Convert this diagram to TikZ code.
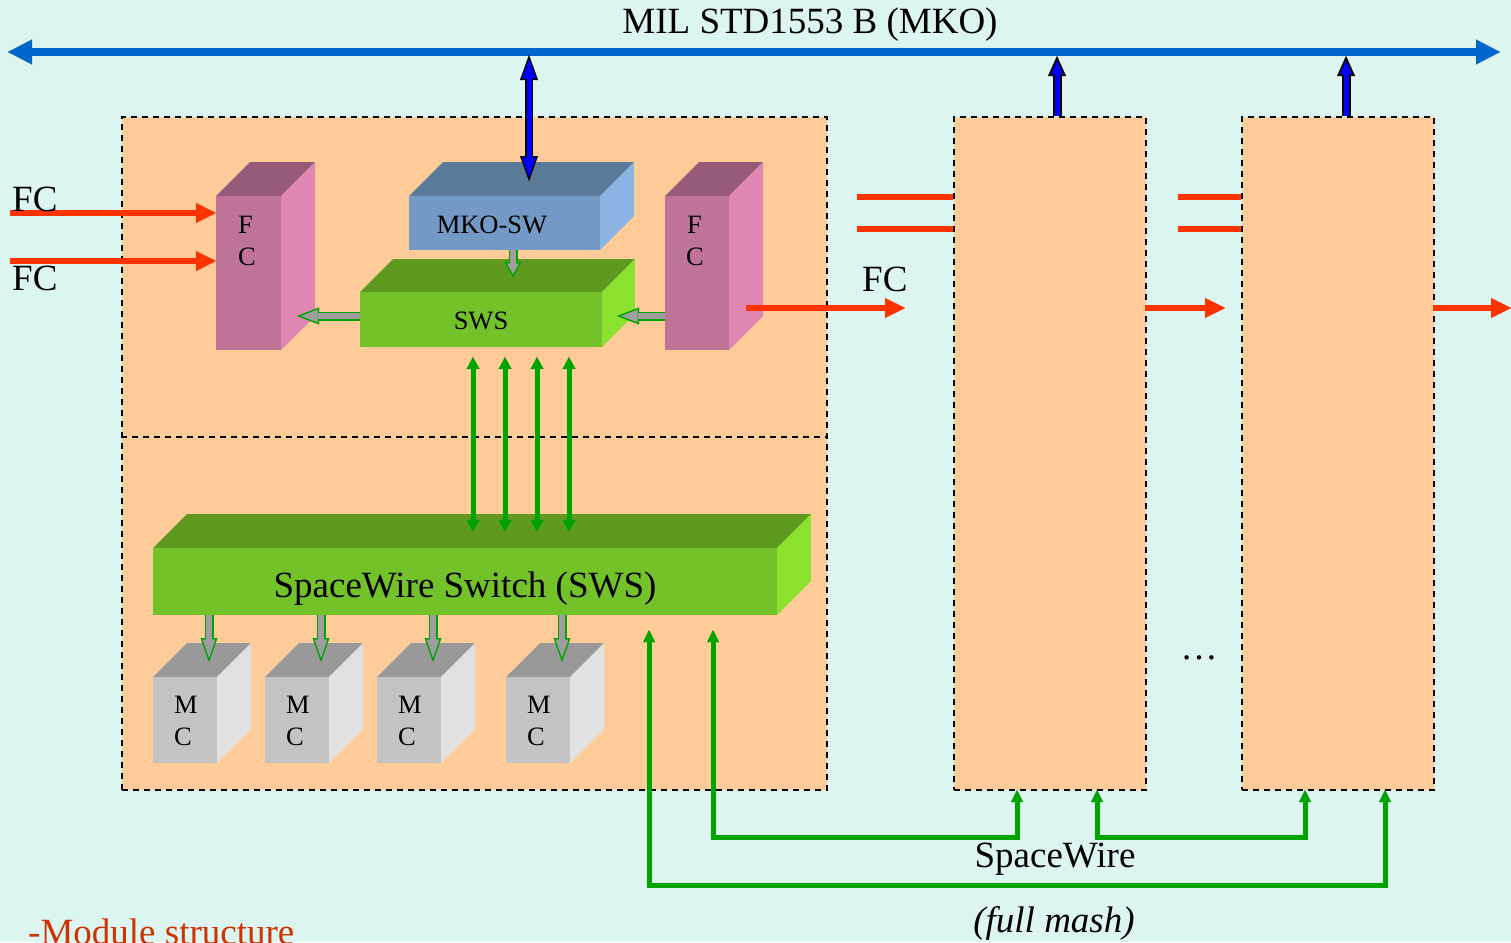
\documentclass[tikz,border=0pt]{standalone}
\usepackage{fontspec}
\setmainfont{Liberation Serif}
\usetikzlibrary{arrows.meta}
\definecolor{bgc}{HTML}{DDF5F1}
\definecolor{peach}{HTML}{FFCC99}
\definecolor{busblue}{HTML}{0066CC}
\definecolor{arrblue}{HTML}{0000FF}
\definecolor{fcred}{HTML}{FF3300}
\definecolor{swgreen}{HTML}{00A300}
\definecolor{arrgray}{HTML}{9E9E9E}
\definecolor{mkofront}{HTML}{7399C6}
\definecolor{mkotop}{HTML}{5B7A99}
\definecolor{mkoright}{HTML}{8CB4E2}
\definecolor{swsfront}{HTML}{74C22A}
\definecolor{swstop}{HTML}{5E9A1F}
\definecolor{swsright}{HTML}{8AE22E}
\definecolor{fcfront}{HTML}{C07399}
\definecolor{fctop}{HTML}{955B78}
\definecolor{fcright}{HTML}{DF86B2}
\definecolor{mcfront}{HTML}{C3C3C3}
\definecolor{mctop}{HTML}{999999}
\definecolor{mcright}{HTML}{E1E1E1}
\definecolor{modred}{HTML}{CC3300}
\newcommand{\fbig}{\fontsize{37}{44}\selectfont}
\newcommand{\fsmall}{\fontsize{26.5}{32}\selectfont}
\newcommand{\cuboid}[9]{%
  \fill[#8] (#2,#3) -- ++(#6,-#6) -- ++(#4,0) -- ++(-#6,#6) -- cycle;
  \fill[#9] (#2+#4,#3) -- ++(#6,-#6) -- ++(0,#5) -- ++(-#6,#6) -- cycle;
  \node[fill=#7, inner sep=0pt, minimum width=#4pt, minimum height=#5pt, anchor=north west] (#1) at (#2,#3) {};
}
\tikzset{
  modbox/.style={draw=black, fill=peach, line width=1.8pt, dash pattern=on 6pt off 5pt, inner sep=0pt, anchor=north west},
  dashline/.style={draw=black, line width=1.8pt, dash pattern=on 6pt off 5pt},
  txt/.style={inner sep=0pt, font=\fbig},
  stxt/.style={inner sep=0pt, font=\fsmall},
  redarrow/.style={fcred, line width=6pt, -{Triangle[length=20pt,width=20pt,line width=0.01pt]}},
  redline/.style={fcred, line width=6pt},
  swdouble/.style={swgreen, line width=5pt, {Triangle[length=12pt,width=13pt,line width=0.01pt]}-{Triangle[length=12pt,width=13pt,line width=0.01pt]}},
  swpath/.style={swgreen, line width=5pt, line join=miter, {Triangle[length=12pt,width=12pt,line width=0.01pt]}-{Triangle[length=12pt,width=12pt,line width=0.01pt]}},
  busline/.style={busblue, line width=8pt, {Triangle[length=24pt,width=25pt,line width=0.01pt]}-{Triangle[length=24pt,width=25pt,line width=0.01pt]}},
}
\newcommand{\grayarrow}[6]{% from, to, outer length, inner shorten, inner length, inner width
  \draw[swgreen, line width=9pt, -{Triangle[length=#3pt,width=17pt,line width=0.01pt]}] #1 -- #2;
  \draw[arrgray, line width=6pt, shorten >=#4pt, -{Triangle[length=#5pt,width=#6pt,line width=0.01pt]}] #1 -- #2;
}
\begin{document}
\begin{tikzpicture}[x=1pt,y=-1pt]
\useasboundingbox (0,0) rectangle (1511,942);
\fill[bgc] (0,0) rectangle (1511,942);

% module boxes
\node[modbox, minimum width=705pt, minimum height=673pt] (mod1) at (121,116) {};
\node[modbox, minimum width=192pt, minimum height=673pt] (mod2) at (953,116) {};
\node[modbox, minimum width=192pt, minimum height=673pt] (mod3) at (1241,116) {};
\coordinate (divL) at (121,437);
\coordinate (divR) at (826,437);
\draw[dashline] (divL) -- (divR);

% cuboids
\cuboid{mko}{409}{196}{191}{54}{34}{mkofront}{mkotop}{mkoright}
\cuboid{sws}{360}{292}{242}{55}{33}{swsfront}{swstop}{swsright}
\cuboid{fcl}{216}{196}{65}{154}{34}{fcfront}{fctop}{fcright}
\cuboid{fcr}{665}{196}{64}{154}{34}{fcfront}{fctop}{fcright}
\cuboid{swsb}{153}{548}{624}{67}{34}{swsfront}{swstop}{swsright}
\cuboid{mc1}{153}{677}{64}{86}{34}{mcfront}{mctop}{mcright}
\cuboid{mc2}{265}{677}{64}{86}{34}{mcfront}{mctop}{mcright}
\cuboid{mc3}{377}{677}{64}{86}{34}{mcfront}{mctop}{mcright}
\cuboid{mc4}{506}{677}{64}{86}{34}{mcfront}{mctop}{mcright}

% texts in boxes
\node[stxt, anchor=base] (tmko) at (492,233) {MKO-SW};
\node[stxt, anchor=base] (tsws) at (481,329) {SWS};
\node[stxt, anchor=base west] (tfl1) at (238,233) {F};
\node[stxt, anchor=base west] (tfl2) at (238,265) {C};
\node[stxt, anchor=base west] (tfr1) at (687,233) {F};
\node[stxt, anchor=base west] (tfr2) at (686,265) {C};
\node[txt, anchor=base] (tswsb) at (465,597) {SpaceWire Switch (SWS)};
\foreach \i/\x in {1/153,2/265,3/377,4/506}{
  \node[stxt, anchor=base west] (mcm\i) at (\x+21,713) {M};
  \node[stxt, anchor=base west] (mcc\i) at (\x+21,745) {C};
}

% bus
\coordinate (busL) at (8,52);
\coordinate (busR) at (1500,52);
\draw[busline] (busL) -- (busR);
\node[txt, anchor=base] (title) at (810,34) {MIL STD1553 B (MKO)};

% blue arrows
\coordinate (b1t) at (529,55);
\coordinate (b1b) at (529,181);
\draw[black, line width=8pt, {Triangle[length=25pt,width=18pt,line width=0.01pt]}-{Triangle[length=25pt,width=18pt,line width=0.01pt]}] (b1t) -- (b1b);
\draw[arrblue, line width=5pt, shorten >=4.4pt, shorten <=4.4pt, {Triangle[length=19.1pt,width=13.8pt,line width=0.01pt]}-{Triangle[length=19.1pt,width=13.8pt,line width=0.01pt]}] (b1t) -- (b1b);
\foreach \x/\n in {1057/2,1346/3}{
  \coordinate (bs\n) at (\x,116);
  \coordinate (bt\n) at (\x,56);
  \draw[black, line width=9pt, -{Triangle[length=20pt,width=18pt,line width=0.01pt]}] (bs\n) -- (bt\n);
  \draw[arrblue, line width=5pt, shorten >=4.9pt, -{Triangle[length=13.1pt,width=11.8pt,line width=0.01pt]}] (bs\n) -- (bt\n);
}

% gray hollow arrows
\coordinate (g1s) at (513,250); \coordinate (g1e) at (513,277);
\grayarrow{(g1s)}{(g1e)}{15}{3.05}{10.45}{11.8}
\coordinate (g2s) at (360,316); \coordinate (g2e) at (297,316);
\grayarrow{(g2s)}{(g2e)}{22}{4.2}{16.3}{12.6}
\coordinate (g3s) at (665,316); \coordinate (g3e) at (617,316);
\grayarrow{(g3s)}{(g3e)}{22}{4.2}{16.3}{12.6}
\foreach \x/\n in {209/1,321/2,433/3,562/4}{
  \coordinate (ms\n) at (\x,615); \coordinate (me\n) at (\x,662);
  \grayarrow{(ms\n)}{(me\n)}{24}{4.5}{18}{12.8}
}

% green vertical double arrows
\foreach \x/\n in {473/1,505/2,537/3,569/4}{
  \coordinate (vt\n) at (\x,357); \coordinate (vb\n) at (\x,532);
  \draw[swdouble] (vt\n) -- (vb\n);
}

% SpaceWire mesh
\coordinate (pa1) at (713,630); \coordinate (pa2) at (713,837); \coordinate (pa3) at (1017,837); \coordinate (pa4) at (1017,790);
\draw[swpath] (pa1) -- (pa2) -- (pa3) -- (pa4);
\coordinate (pb1) at (1097,790); \coordinate (pb2) at (1097,837); \coordinate (pb3) at (1305,837); \coordinate (pb4) at (1305,790);
\draw[swpath] (pb1) -- (pb2) -- (pb3) -- (pb4);
\coordinate (pc1) at (649,630); \coordinate (pc2) at (649,885); \coordinate (pc3) at (1385,885); \coordinate (pc4) at (1385,790);
\draw[swpath] (pc1) -- (pc2) -- (pc3) -- (pc4);

% red FC links
\coordinate (ra1) at (10,213); \coordinate (ra2) at (216,213);
\coordinate (rb1) at (10,261); \coordinate (rb2) at (216,261);
\draw[redarrow] (ra1) -- (ra2);
\draw[redarrow] (rb1) -- (rb2);
\coordinate (rc1) at (746,308); \coordinate (rc2) at (905,308);
\draw[redarrow] (rc1) -- (rc2);
\coordinate (rd1) at (1145,308); \coordinate (rd2) at (1225,308);
\draw[redarrow] (rd1) -- (rd2);
\coordinate (re1) at (1433,308); \coordinate (re2) at (1511,308);
\draw[redarrow] (re1) -- (re2);
\coordinate (s1a) at (857,197); \coordinate (s1b) at (953,197);
\coordinate (s2a) at (857,229); \coordinate (s2b) at (953,229);
\coordinate (s3a) at (1178,197); \coordinate (s3b) at (1241,197);
\coordinate (s4a) at (1178,229); \coordinate (s4b) at (1241,229);
\draw[redline] (s1a) -- (s1b);
\draw[redline] (s2a) -- (s2b);
\draw[redline] (s3a) -- (s3b);
\draw[redline] (s4a) -- (s4b);

% labels
\node[txt, anchor=base west] (fcA) at (12,211) {FC};
\node[txt, anchor=base west] (fcB) at (12,290) {FC};
\node[txt, anchor=base west] (fcC) at (862,291) {FC};
\node[txt, anchor=base] (spw) at (1055,867) {SpaceWire};
\node[txt, anchor=base] (mash) at (1054,932) {\itshape (full mash)};
\node[txt, anchor=base] (dots) at (1199,659) {…};
\node[txt, anchor=base west, text=modred] (modst) at (28,944) {-Module structure};
\end{tikzpicture}
\end{document}
